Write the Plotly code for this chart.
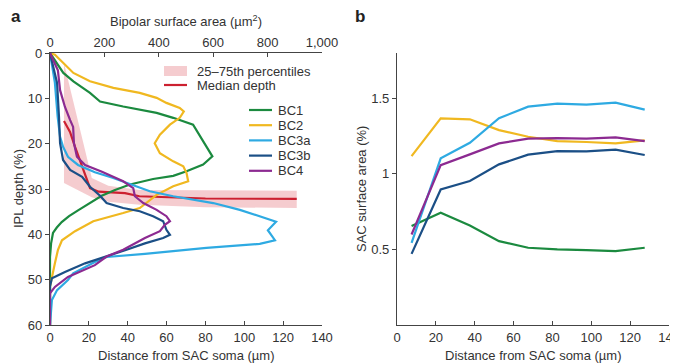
import plotly.graph_objects as go

# ---------------- Panel a data ----------------
# Percentile band (distance from SAC soma, IPL depth)
band_dist = [7.2, 21.5, 30, 46, 80, 127]
band_p25 = [2.2, 27.6, 29.3, 30.2, 30.3, 30.4]
band_p75 = [28.7, 31.8, 32.8, 33.5, 34.0, 34.2]

median_dist = [7.2, 10.3, 12.9, 15.4, 18.0, 20.6, 25, 38.6, 46, 80, 127]
median_depth = [15.0, 17.4, 20.7, 23.6, 26.5, 29.8, 30.6, 30.9, 31.6, 32.1, 32.2]

# Bipolar surface area (um^2) vs IPL depth (%)
bc1_area = [0, 24, 49, 86, 147, 184, 269, 392, 453, 526, 544, 551, 575, 597, 563, 502, 453, 379, 294,
            239, 190, 147, 103, 70, 43, 25, 11, 4, 0, 0]
bc1_depth = [0, 2.2, 4.4, 6.25, 8.8, 10.7, 11.8, 13.2, 14.3, 15.8, 17.6, 18.4, 20.6, 22.8, 24.6, 26.1, 27.1, 27.8, 29.0,
             30.2, 31.5, 33.0, 34.7, 36.0, 37.3, 38.5, 39.7, 42, 45, 60]

bc2_area = [0, 18, 49, 86, 147, 233, 330, 392, 428, 477, 492, 477, 441, 404, 385, 404, 453, 490, 502, 508,
            453, 392, 330, 269, 159, 92, 44, 29, 18, 8, 0, 0]
bc2_depth = [0, 0.4, 2.2, 4.4, 6.25, 7.7, 8.8, 9.9, 11, 12.1, 12.9, 14.3, 15.8, 18, 19.9, 22.1, 23.9, 25, 26.5, 28.3,
             29.4, 31.3, 34.2, 35.3, 37.1, 39.3, 41.3, 43.5, 46.4, 49, 51.5, 60]

bc3a_area = [0, 18, 28, 37, 48, 66, 103, 165, 230, 282, 367, 453, 600, 698, 771, 831, 801, 827, 771, 575,
             349, 208, 165, 85, 66, 26, 7, 4, 0]
bc3a_depth = [0, 6.6, 14, 18.5, 20.7, 22.9, 24.7, 26.3, 27.5, 28.7, 30.5, 31.6, 33.1, 34.6, 36, 37.2, 39.1, 41.3, 42.1, 43,
              44.3, 45, 46.1, 48.6, 50.1, 52.3, 54.5, 57, 60]

bc3b_area = [0, 26, 33, 37, 48, 74, 118, 147, 184, 208, 269, 330, 379, 416, 428, 441, 416, 349, 276, 208,
             129, 55, 7, 0, 0]
bc3b_depth = [0, 6.6, 14, 19.9, 23.6, 25.8, 27.3, 29.5, 31.5, 33.1, 34.2, 34.9, 36, 37.1, 39, 40.1, 40.8, 42, 43.5, 44.9,
              46.4, 48.3, 49.7, 51.5, 60]

bc4_area = [0, 29, 37, 55, 74, 85, 88, 99, 129, 191, 269, 306, 312, 343, 392, 428, 441, 422, 404, 349,
            269, 208, 165, 66, 18, 0, 0]
bc4_depth = [0, 3.8, 8.2, 11.9, 14.8, 16.3, 19.9, 22.9, 24.7, 26.2, 28.3, 29.8, 31.6, 33.1, 34.6, 36, 37.1, 37.9, 39.3, 40.8,
             43.4, 44.9, 46.8, 49.4, 51.6, 53, 60]

# ---------------- Panel b data ----------------
dist_b = [7.5, 22.5, 37.5, 52.5, 67.5, 82.5, 97.5, 112.5, 127.5]
bc1_b = [0.655, 0.743, 0.659, 0.555, 0.511, 0.500, 0.496, 0.489, 0.511]
bc2_b = [1.118, 1.368, 1.361, 1.290, 1.246, 1.217, 1.211, 1.202, 1.222]
bc3a_b = [0.544, 1.103, 1.206, 1.368, 1.445, 1.465, 1.458, 1.471, 1.425]
bc3b_b = [0.471, 0.897, 0.953, 1.063, 1.127, 1.151, 1.149, 1.160, 1.125]
bc4_b = [0.599, 1.058, 1.129, 1.202, 1.233, 1.237, 1.233, 1.242, 1.217]

names = ["BC1", "BC2", "BC3a", "BC3b", "BC4"]
colors = ["#1b8a3f", "#f0b820", "#2eaae2", "#1b4f86", "#8c2a91"]
areas = [bc1_area, bc2_area, bc3a_area, bc3b_area, bc4_area]
depths = [bc1_depth, bc2_depth, bc3a_depth, bc3b_depth, bc4_depth]
panel_b = [bc1_b, bc2_b, bc3a_b, bc3b_b, bc4_b]

band_label = "25–75th percentiles"
median_label = "Median depth"
band_color = "rgba(238,170,175,0.6)"
median_color = "#cc2030"

FONT = "Liberation Sans, Arial, sans-serif"
TXT = "#333333"
AX = "#444444"
FS = 13

# The page body adds an 8px offset; positions below are given in screen pixels
OFF = 8
W, H = 678, 363
ML = 50 - OFF
MT = 53 - OFF
MB = H - (325 - OFF)
MR = W - (669 - OFF)
PW, PH = W - ML - MR, H - MT - MB


def px(x):
    return (x - OFF - ML) / PW


def py(y):
    return (H - MB - (y - OFF)) / PH


fig = go.Figure()

fig.add_trace(go.Scatter(
    x=band_dist + band_dist[::-1], y=band_p25 + band_p75[::-1],
    fill="toself", fillcolor=band_color, line=dict(width=0),
    mode="lines", name=band_label, xaxis="x", yaxis="y", hoverinfo="skip"))
fig.add_trace(go.Scatter(
    x=median_dist, y=median_depth, mode="lines", line=dict(color=median_color, width=2.2),
    name=median_label, xaxis="x", yaxis="y"))

for n, c, a, d in zip(names, colors, areas, depths):
    fig.add_trace(go.Scatter(x=a, y=d, mode="lines", line=dict(color=c, width=2.2),
                             name=n, xaxis="x2", yaxis="y"))

for n, c, v in zip(names, colors, panel_b):
    fig.add_trace(go.Scatter(x=dist_b, y=v, mode="lines", line=dict(color=c, width=2.2),
                             name=n, xaxis="x3", yaxis="y3"))

axbase = dict(showline=True, linecolor=AX, linewidth=1.3, ticklen=4,
              tickcolor=AX, tickwidth=1.2, showgrid=False, zeroline=False, automargin=False,
              ticklabeloverflow="allow",
              tickfont=dict(family=FONT, size=FS, color=TXT))
xax = dict(ticks="inside", **axbase)
yax = dict(ticks="outside", **axbase)

fig.update_layout(
    width=W, height=H,
    margin=dict(l=ML, r=MR, t=MT, b=MB, autoexpand=False),
    plot_bgcolor="white", paper_bgcolor="white",
    font=dict(family=FONT, color=TXT, size=FS),
    showlegend=False,
    xaxis=dict(domain=[px(50), px(322)], range=[0, 140], tickvals=list(range(0, 141, 20)),
               anchor="y", **xax),
    xaxis2=dict(range=[0, 1000], overlaying="x", side="top", anchor="y",
                tickvals=[0, 200, 400, 600, 800, 1000], tickformat=",", **xax),
    yaxis=dict(domain=[0, 1], range=[60, 0], tickvals=list(range(0, 61, 10)), anchor="x", **yax),
    xaxis3=dict(domain=[px(397), px(669)], range=[0, 140], tickvals=list(range(0, 141, 20)),
                anchor="y3", **xax),
    yaxis3=dict(domain=[0, 1], range=[0, 1.8], tickvals=[0.5, 1, 1.5], ticktext=["0.5", "1", "1.5"],
                anchor="x3", **yax),
)

# manual legend (compact spacing as in the reference)
fig.add_shape(type="rect", xref="paper", yref="paper", x0=px(164), x1=px(187), y0=py(76), y1=py(66),
              fillcolor=band_color, line=dict(width=0))
fig.add_shape(type="line", xref="paper", yref="paper", x0=px(164), x1=px(187), y0=py(85), y1=py(85),
              line=dict(color=median_color, width=2.2))
leg_text = [(band_label, 195, 71), (median_label, 195, 85)]
for i, (n, c) in enumerate(zip(names, colors)):
    yy = 110 + i * 15.2
    fig.add_shape(type="line", xref="paper", yref="paper", x0=px(249), x1=px(272), y0=py(yy), y1=py(yy),
                  line=dict(color=c, width=2.2))
    leg_text.append((n, 276, yy))

ann = [
    dict(text="<b>a</b>", x=9, y=16, font=dict(size=17, color="#222222")),
    dict(text="<b>b</b>", x=353, y=16, font=dict(size=17, color="#222222")),
    dict(text="Bipolar surface area (µm<sup>2</sup>)", x=186, y=21, xanchor="center"),
    dict(text="Distance from SAC soma (µm)", x=186, y=355, xanchor="center"),
    dict(text="Distance from SAC soma (µm)", x=533, y=355, xanchor="center"),
    dict(text="IPL depth (%)", x=18, y=189, textangle=-90, xanchor="center"),
    dict(text="SAC surface area (%)", x=361, y=189, textangle=-90, xanchor="center"),
]
for t, x, y in leg_text:
    ann.append(dict(text=t, x=x, y=y))

for a in ann:
    a.setdefault("xanchor", "left")
    a.setdefault("font", dict(size=FS, color=TXT, family=FONT))
    a["x"] = px(a["x"])
    a["y"] = py(a["y"])
    fig.add_annotation(xref="paper", yref="paper", yanchor="middle", showarrow=False, **a)

fig.write_html("out.html", config={"displayModeBar": False})
